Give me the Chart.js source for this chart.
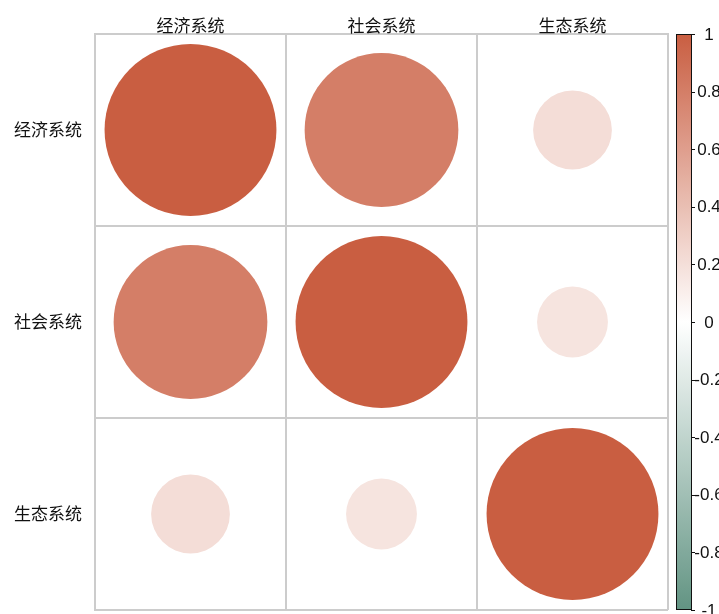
<!DOCTYPE html>
<html>
<head>
<meta charset="utf-8">
<script src="https://cdn.jsdelivr.net/npm/chart.js@4/dist/chart.umd.min.js"></script>
<style>
  html, body { margin: 0; padding: 0; background: #ffffff; }
  #wrap { width: 719px; height: 614px; }
</style>
</head>
<body>
<div id="wrap"><canvas id="c" width="719" height="614"></canvas></div>
<script>
// Variables of the correlation matrix
const systems = ['经济系统', '社会系统', '生态系统'];

// Correlation coefficients, one row per system
const economyRow = [1.00, 0.80, 0.21];
const societyRow = [0.80, 1.00, 0.17];
const ecologyRow = [0.21, 0.17, 1.00];

// Colour bar ticks
const colorbarTicks = [1, 0.8, 0.6, 0.4, 0.2, 0, -0.2, -0.4, -0.6, -0.8, -1];
const colorbarLabels = ['1', '0.8', '0.6', '0.4', '0.2', '0', '-0.2', '-0.4', '-0.6', '-0.8', '-1'];

// Palette ends: positive -> warm red, negative -> teal, 0 -> white
const POS = [201, 94, 65];
const NEG = [98, 148, 131];

function colorFor(v) {
  const end = v >= 0 ? POS : NEG;
  const t = Math.min(1, Math.abs(v));
  const c = end.map(e => Math.round(255 + (e - 255) * t));
  return `rgb(${c[0]},${c[1]},${c[2]})`;
}

const rows = [economyRow, societyRow, ecologyRow];
const points = [];
rows.forEach((row, i) => {
  row.forEach((v, j) => {
    points.push({ x: systems[j], y: systems[i], v: v });
  });
});

// Circle radius: 0.45 of a cell at |r| = 1, area proportional to |r|
function circleRadius(ctx) {
  const xs = ctx.chart.scales && ctx.chart.scales.x;
  if (!xs || !ctx.raw) return 0;
  const cell = Math.abs(xs.getPixelForValue(1) - xs.getPixelForValue(0));
  const r = 0.45 * cell * Math.sqrt(Math.abs(ctx.raw.v));
  return isFinite(r) ? r : 0;
}

// Colour bar drawn next to the plot, positioned with the hidden 'cb' scale
const colorbarPlugin = {
  id: 'colorbar',
  afterDraw(chart) {
    const ctx = chart.ctx;
    const cb = chart.scales.cb;
    const area = chart.chartArea;
    const x0 = area.right + 8;
    const w = 16;
    const yTop = cb.getPixelForValue(1);
    const yBot = cb.getPixelForValue(-1);
    const grad = ctx.createLinearGradient(0, yTop, 0, yBot);
    const steps = 40;
    for (let k = 0; k <= steps; k++) {
      const v = 1 - 2 * k / steps;
      grad.addColorStop(k / steps, colorFor(v));
    }
    ctx.save();
    ctx.fillStyle = grad;
    ctx.fillRect(x0, yTop, w, yBot - yTop);
    ctx.strokeStyle = '#111111';
    ctx.lineWidth = 1;
    ctx.strokeRect(x0 + 0.5, yTop + 0.5, w - 1, yBot - yTop - 1);
    ctx.font = '17px "Liberation Sans", Arial, sans-serif';
    ctx.fillStyle = '#111111';
    ctx.textAlign = 'center';
    ctx.textBaseline = 'middle';
    colorbarTicks.forEach((t, k) => {
      const y = Math.round(cb.getPixelForValue(t)) + 0.5;
      ctx.beginPath();
      ctx.moveTo(x0 + w - 1, y);
      ctx.lineTo(x0 + w + 3, y);
      ctx.stroke();
      ctx.fillText(colorbarLabels[k], x0 + w + 17, cb.getPixelForValue(t) + 1);
    });
    ctx.restore();
  }
};

new Chart(document.getElementById('c'), {
  type: 'scatter',
  data: {
    datasets: [{
      data: points,
      clip: false,
      pointBorderWidth: 0,
      pointBackgroundColor: ctx => colorFor(ctx.raw ? ctx.raw.v : 0),
      pointRadius: circleRadius,
      pointHoverRadius: circleRadius
    }]
  },
  options: {
    responsive: false,
    animation: false,
    events: [],
    layout: { padding: { left: 0, top: 0, right: 51, bottom: 4 } },
    plugins: { legend: { display: false }, tooltip: { enabled: false } },
    scales: {
      x: {
        type: 'category',
        labels: systems,
        position: 'top',
        offset: true,
        grid: { offset: true, color: '#cccccc', lineWidth: 2, drawTicks: false },
        border: { color: '#cccccc', width: 2 },
        ticks: {
          padding: -2,
          color: '#111111',
          font: { family: '"Noto Sans CJK SC", sans-serif', size: 17 }
        },
        afterFit: s => { s.height = 34; s.paddingLeft = 0; s.paddingRight = 0; }
      },
      y: {
        type: 'category',
        labels: systems,
        position: 'left',
        offset: true,
        grid: { offset: true, color: '#cccccc', lineWidth: 2, drawTicks: false },
        border: { color: '#cccccc', width: 2 },
        ticks: {
          padding: 13,
          color: '#111111',
          font: { family: '"Noto Sans CJK SC", sans-serif', size: 17 }
        },
        afterFit: s => { s.width = 95; s.paddingTop = 0; s.paddingBottom = 0; }
      },
      cb: {
        type: 'linear',
        position: 'right',
        display: false,
        min: -1,
        max: 1
      }
    }
  },
  plugins: [colorbarPlugin]
});
</script>
</body>
</html>
